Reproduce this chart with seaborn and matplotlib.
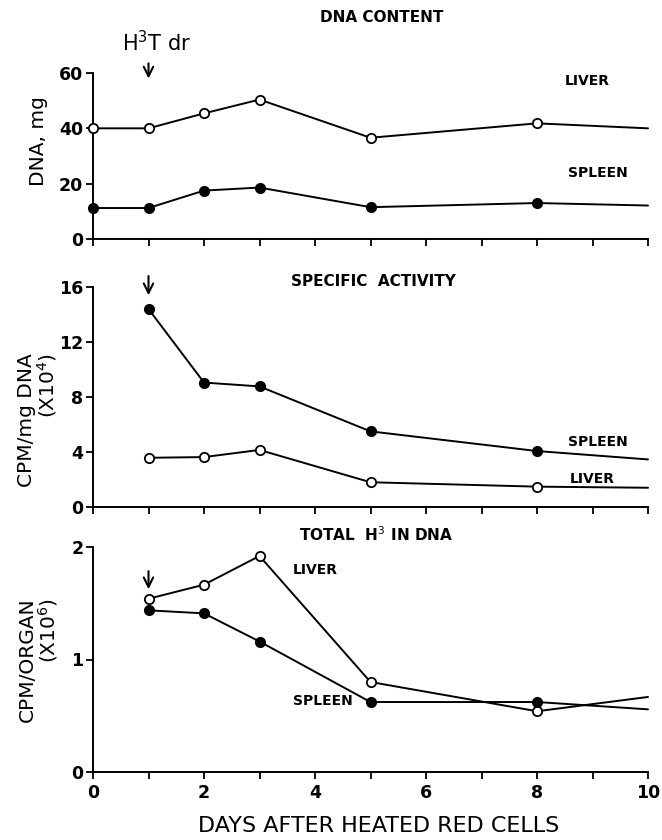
import numpy as np
import pandas as pd
import matplotlib
matplotlib.use('Agg')
import matplotlib.pyplot as plt
import seaborn as sns

# values
days_dna = [0, 1, 2, 3, 5, 8, 10]
liver_dna = [40.0, 40.0, 45.4, 50.4, 36.6, 41.8, 40.0]
spleen_dna = [11.2, 11.2, 17.5, 18.6, 11.5, 13.0, 12.1]

days_act = [1, 2, 3, 5, 8, 10]
spleen_act = [14.4, 9.05, 8.77, 5.5, 4.07, 3.46]
liver_act = [3.58, 3.63, 4.15, 1.8, 1.48, 1.4]

days_tot = [1, 2, 3, 5, 8, 10]
liver_tot = [1.54, 1.665, 1.92, 0.80, 0.54, 0.667]
spleen_tot = [1.437, 1.41, 1.16, 0.622, 0.622, 0.557]

# the curves run on to day 10 but the last measured day is 8
last_measured = 8

sns.set_theme(style='ticks')
plt.rcParams['font.family'] = ['DejaVu Sans']
plt.rcParams['axes.linewidth'] = 1.4
plt.rcParams['text.color'] = 'black'
plt.rcParams['axes.labelcolor'] = 'black'
plt.rcParams['xtick.color'] = 'black'
plt.rcParams['ytick.color'] = 'black'
plt.rcParams['axes.edgecolor'] = 'black'

fig = plt.figure(figsize=(6.62, 8.4), dpi=100)
W, H = 662, 840
left, right = 93, 648
ax1 = fig.add_axes([left / W, 1 - 239 / H, (right - left) / W, (239 - 73) / H])
ax2 = fig.add_axes([left / W, 1 - 507 / H, (right - left) / W, (507 - 287) / H])
ax3 = fig.add_axes([left / W, 1 - 772 / H, (right - left) / W, (772 - 547) / H])


def draw(ax, days, vals, filled):
    df = pd.DataFrame({'day': days, 'val': vals})
    sns.lineplot(data=df, x='day', y='val', ax=ax, color='black', lw=1.4,
                 zorder=2, clip_on=False)
    pts = df[df.day <= last_measured]
    sns.scatterplot(data=pts, x='day', y='val', ax=ax, s=45,
                    color='black' if filled else 'white', edgecolor='black',
                    linewidth=1.3, zorder=3, clip_on=False)


draw(ax1, days_dna, liver_dna, False)
draw(ax1, days_dna, spleen_dna, True)
draw(ax2, days_act, spleen_act, True)
draw(ax2, days_act, liver_act, False)
draw(ax3, days_tot, liver_tot, False)
draw(ax3, days_tot, spleen_tot, True)

ylims = [(0, 60, [0, 20, 40, 60]), (0, 16, [0, 4, 8, 12, 16]), (0, 2, [0, 1, 2])]
for ax, (lo, hi, ticks) in zip([ax1, ax2, ax3], ylims):
    ax.set_xlim(0, 10)
    ax.set_ylim(lo, hi)
    ax.set_yticks(ticks)
    ax.set_xticks(range(0, 11))
    ax.set_xlabel('')
    ax.set_ylabel('')
    sns.despine(ax=ax)
    ax.tick_params(axis='both', direction='out', length=5, width=1.3,
                   colors='black', labelsize=12.5, pad=2)
    for lab in ax.get_yticklabels():
        lab.set_fontweight('bold')
    ax.set_facecolor('white')

for ax in [ax1, ax2]:
    ax.set_xticklabels([])
ax3.set_xticks(range(0, 11))
ax3.set_xticklabels([str(d) if d % 2 == 0 else '' for d in range(0, 11)],
                    fontweight='bold')
ax3.tick_params(axis='x', pad=4)

# panel titles
tkw = dict(ha='center', va='center', fontsize=11, fontweight='bold')
ax1.text(5.2, 1.0 + 56 / 166, 'DNA CONTENT', transform=ax1.get_xaxis_transform(), **tkw)
ax2.text(5.05, 16.4, 'SPECIFIC  ACTIVITY', **tkw)
ax3.text(5.1, 2.11, 'TOTAL  H$^3$ IN DNA', **tkw)

# series labels
skw = dict(ha='center', va='center', fontsize=10, fontweight='bold')
ax1.text(8.9, 57, 'LIVER', **skw)
ax1.text(9.1, 23.8, 'SPLEEN', **skw)
ax2.text(9.1, 4.7, 'SPLEEN', **skw)
ax2.text(9.0, 2.0, 'LIVER', **skw)
ax3.text(4.0, 1.80, 'LIVER', **skw)
ax3.text(4.15, 0.63, 'SPLEEN', **skw)

# injection arrows
akw = dict(arrowstyle='->', lw=1.5, color='black', mutation_scale=17)
ax1.annotate('', xy=(1, 57.0), xytext=(1, 64.5), arrowprops=akw, annotation_clip=False)
ax1.text(1.15, 71, 'H$^3$T dr', ha='center', va='center', fontsize=15)
ax2.annotate('', xy=(1, 15.2), xytext=(1, 17.0), arrowprops=akw, annotation_clip=False)
ax3.annotate('', xy=(1, 1.6), xytext=(1, 1.81), arrowprops=akw, annotation_clip=False)

# axis labels
lkw = dict(ha='center', va='center', rotation=90, fontsize=14.5,
           multialignment='right')
fig.text(38 / W, 1 - 141 / H, 'DNA, mg', **lkw)
fig.text(38 / W, 1 - 420 / H, 'CPM/mg DNA\n(X10$^4$)', linespacing=1.0, **lkw)
fig.text(39 / W, 1 - 660 / H, 'CPM/ORGAN\n(X10$^6$)', linespacing=1.0, **lkw)
fig.text((left + right) / 2 / W + 8 / W, 1 - 826 / H, 'DAYS AFTER HEATED RED CELLS',
         ha='center', va='center', fontsize=16)

fig.savefig('out.png', dpi=100, facecolor='white')
